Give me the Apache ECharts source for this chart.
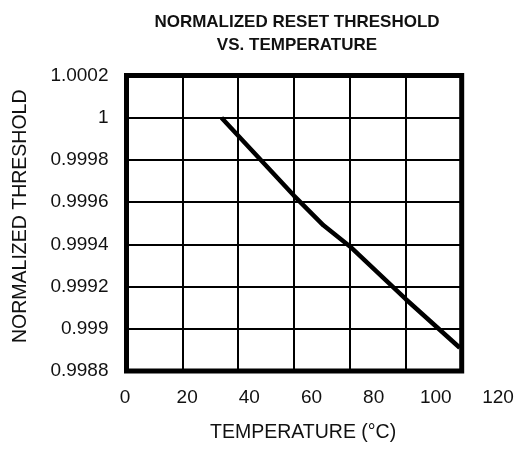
<!DOCTYPE html>
<html>
<head>
<meta charset="utf-8">
<script src="https://cdn.jsdelivr.net/npm/echarts@6/dist/echarts.min.js"></script>
<style>html,body{margin:0;padding:0;background:#fff}#c{width:517px;height:451px}</style>
</head>
<body>
<div id="c"></div>
<script>
// Data
const temperature = [34, 60, 70.5, 80, 100, 119.3];
const threshold = [1.0000, 0.99963, 0.99949, 0.99939, 0.99914, 0.99891];
const xTickLabels = [0, 20, 40, 60, 80, 100, 120];
const yMin = 0.9988, yMax = 1.0002, yStep = 0.0002;
const xMin = 0, xMax = 120, xStep = 20;

const chart = echarts.init(document.getElementById('c'), null, {renderer: 'canvas'});
const font = 'Liberation Sans, Arial, sans-serif';
chart.setOption({
  animation: false,
  backgroundColor: '#fff',
  title: {
    text: 'NORMALIZED RESET THRESHOLD\nVS. TEMPERATURE',
    left: 292, top: 5.5, textAlign: 'center',
    textStyle: {fontFamily: 'Liberation Sans Narrow, Arial Narrow, Liberation Sans, sans-serif', fontWeight: 'bold', fontSize: 17, lineHeight: 23, color: '#111'}
  },
  grid: [
    {left: 126.5, right: 55.3, top: 75.5, bottom: 80, show: true, borderColor: '#000', borderWidth: 5, backgroundColor: 'transparent', containLabel: false, outerBoundsMode: 'none'},
    {left: 125, right: 19, top: 75.5, bottom: 80, show: false, containLabel: false, outerBoundsMode: 'none'}
  ],
  xAxis: [
    {gridIndex: 0, type: 'value', min: xMin, max: xMax, interval: xStep,
      name: 'TEMPERATURE (°C)', nameLocation: 'middle', nameGap: 52,
      nameTextStyle: {fontFamily: font, fontSize: 19.5, color: '#111', padding: [0, 0, 0, 18]},
      axisLine: {show: false}, axisTick: {show: false}, axisLabel: {show: false},
      splitLine: {show: true, lineStyle: {color: '#000', width: 2}}},
    {gridIndex: 1, type: 'value', min: xMin, max: xMax, interval: xStep,
      axisLine: {show: false}, axisTick: {show: false}, splitLine: {show: false},
      axisLabel: {show: true, margin: 17, fontFamily: font, fontSize: 19, color: '#111',
        formatter: v => xTickLabels.includes(v) ? String(v) : ''}}
  ],
  yAxis: [
    {gridIndex: 0, type: 'value', min: yMin, max: yMax, interval: yStep,
      name: 'NORMALIZED THRESHOLD', nameLocation: 'middle', nameGap: 96, nameRotate: 90,
      nameTextStyle: {fontFamily: font, fontSize: 19.5, color: '#111', padding: [0, 0, 0, 14]},
      axisLine: {show: false}, axisTick: {show: false},
      axisLabel: {margin: 18, fontFamily: font, fontSize: 19, color: '#111',
        formatter: v => String(+v.toFixed(4))},
      splitLine: {show: true, lineStyle: {color: '#000', width: 2}}},
    {gridIndex: 1, type: 'value', min: yMin, max: yMax, show: false}
  ],
  series: [{
    type: 'line', xAxisIndex: 0, yAxisIndex: 0,
    data: temperature.map((t, i) => [t, threshold[i]]),
    showSymbol: false, smooth: false,
    lineStyle: {color: '#000', width: 4.5}
  }]
});
</script>
</body>
</html>
